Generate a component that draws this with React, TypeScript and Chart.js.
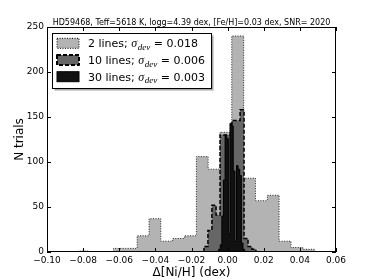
import React, { useEffect, useRef } from "react";
import { Chart, registerables } from "chart.js";

Chart.register(...registerables);

// ---------- text ----------
const TITLE = "HD59468, Teff=5618 K, logg=4.39 dex, [Fe/H]=0.03 dex, SNR= 2020";
const X_LABEL = "Δ[Ni/H] (dex)";
const Y_LABEL = "N trials";

// ---------- ticks ----------
const X_TICKS = [-0.1, -0.08, -0.06, -0.04, -0.02, 0, 0.02, 0.04, 0.06];
const Y_TICKS = [0, 50, 100, 150, 200, 250];

// ---------- series: bin edges and counts ----------
const LINES2_EDGES = [
  -0.0828, -0.0763, -0.0697, -0.0632, -0.0566, -0.0501, -0.0435, -0.037, -0.0304, -0.0239,
  -0.0173, -0.0108, -0.0042, 0.0023, 0.0089, 0.0154, 0.022, 0.0285, 0.0351, 0.0416, 0.0482,
];
const LINES2_COUNTS = [1, 0, 0, 4, 4, 18, 37, 12, 15, 18, 106, 92, 133, 240, 82, 57, 63, 12, 5, 3];

const LINES10_EDGES = [
  -0.0131, -0.0109, -0.0087, -0.0064, -0.0042, -0.002, 0.0002, 0.0024, 0.0046, 0.0069, 0.0091,
  0.0113, 0.0135, 0.0157,
];
const LINES10_COUNTS = [6, 24, 52, 41, 130, 130, 130, 146, 146, 158, 15, 6, 3];

const LINES30_EDGES = [
  -0.005, -0.0041, -0.0032, -0.0023, -0.0014, -0.0005, 0.0004, 0.0013, 0.0022, 0.0031, 0.004,
  0.0049, 0.0058, 0.0067, 0.0076, 0.0085, 0.0094,
];
const LINES30_COUNTS = [3, 8, 40, 80, 130, 126, 20, 143, 140, 90, 12, 96, 92, 85, 10, 3];

const SERIES_NAMES = ["2 lines", "10 lines", "30 lines"];
const SIGMA_DEV = ["0.018", "0.006", "0.003"];

// ---------- styles ----------
const FILLS = ["#b3b3b3", "#666666", "#111111"];
const FONT = "'DejaVu Sans', sans-serif";
const MATH = "'Liberation Serif', 'DejaVu Serif', serif";

function stepPoints(edges: number[], counts: number[]) {
  const pts: { x: number; y: number }[] = [{ x: edges[0], y: 0 }];
  for (let i = 0; i < counts.length; i++) pts.push({ x: edges[i], y: counts[i] });
  pts.push({ x: edges[edges.length - 1], y: 0 });
  return pts;
}

const overlayPlugin = {
  id: "overlay",
  afterDraw(chart: any) {
    const ctx = chart.ctx as CanvasRenderingContext2D;
    const { left, right, top, bottom } = chart.chartArea;
    const xs = chart.scales.x;
    const ys = chart.scales.y;
    ctx.save();
    // frame
    ctx.strokeStyle = "#000";
    ctx.lineWidth = 1;
    ctx.setLineDash([]);
    ctx.strokeRect(left + 0.5, top + 0.5, right - left - 1, bottom - top - 1);
    // inward ticks
    const TL = 4;
    ctx.beginPath();
    X_TICKS.forEach((v) => {
      const px = Math.round(xs.getPixelForValue(v)) + 0.5;
      ctx.moveTo(px, bottom);
      ctx.lineTo(px, bottom - TL);
      ctx.moveTo(px, top);
      ctx.lineTo(px, top + TL);
    });
    Y_TICKS.forEach((v) => {
      const py = Math.round(ys.getPixelForValue(v)) + 0.5;
      ctx.moveTo(left, py);
      ctx.lineTo(left + TL, py);
      ctx.moveTo(right, py);
      ctx.lineTo(right - TL, py);
    });
    ctx.stroke();

    // title
    ctx.fillStyle = "#000";
    ctx.font = `8px ${FONT}`;
    ctx.textAlign = "center";
    ctx.textBaseline = "alphabetic";
    ctx.fillText(TITLE, (left + right) / 2, 24.5);

    // x label
    ctx.font = `12px ${FONT}`;
    ctx.fillText(X_LABEL, (left + right) / 2, 276);

    // y label
    ctx.save();
    ctx.translate(22.5, (top + bottom) / 2);
    ctx.rotate(-Math.PI / 2);
    ctx.fillText(Y_LABEL, 0, 0);
    ctx.restore();

    // legend
    const bx = 52.5, by = 33.5, bw = 159, bh = 55;
    ctx.fillStyle = "rgba(0,0,0,0.35)";
    ctx.fillRect(bx + 2, by + 2, bw, bh);
    ctx.fillStyle = "#fff";
    ctx.fillRect(bx, by, bw, bh);
    ctx.strokeStyle = "#000";
    ctx.lineWidth = 1;
    ctx.strokeRect(bx, by, bw, bh);

    SERIES_NAMES.forEach((name, i) => {
      const cy = 43.3 + i * 16.7;
      // patch
      ctx.save();
      ctx.fillStyle = FILLS[i];
      ctx.fillRect(57, cy - 5, 22, 10);
      ctx.strokeStyle = "#000";
      if (i === 0) {
        ctx.lineWidth = 1;
        ctx.setLineDash([1, 1.5]);
      } else if (i === 1) {
        ctx.lineWidth = 2;
        ctx.lineJoin = "round";
        ctx.setLineDash([4, 2]);
      } else {
        ctx.lineWidth = 1;
        ctx.setLineDash([]);
      }
      ctx.strokeRect(57, cy - 5, 22, 10);
      ctx.restore();

      // text
      ctx.fillStyle = "#000";
      ctx.textAlign = "left";
      ctx.textBaseline = "alphabetic";
      const base = cy + 4;
      let x = 88;
      ctx.font = `11px ${FONT}`;
      const t1 = `${name}; `;
      ctx.fillText(t1, x, base);
      x += ctx.measureText(t1).width;
      ctx.font = `italic 12px ${MATH}`;
      ctx.fillText("σ", x, base);
      x += ctx.measureText("σ").width + 0.5;
      ctx.font = `italic 9px ${MATH}`;
      ctx.fillText("dev", x, base + 2.5);
      x += ctx.measureText("dev").width;
      ctx.font = `11px ${FONT}`;
      ctx.fillText(` = ${SIGMA_DEV[i]}`, x, base);
    });
    ctx.restore();
  },
};

export default function App() {
  const ref = useRef<HTMLCanvasElement | null>(null);

  useEffect(() => {
    if (!ref.current) return;
    const chart = new Chart(ref.current, {
      type: "line",
      data: {
        datasets: [
          {
            label: SERIES_NAMES[0],
            data: stepPoints(LINES2_EDGES, LINES2_COUNTS),
            stepped: true,
            fill: "origin",
            backgroundColor: FILLS[0],
            borderColor: "#222",
            borderWidth: 1,
            borderDash: [1, 1.5],
            pointRadius: 0,
            order: 3,
          },
          {
            label: SERIES_NAMES[1],
            data: stepPoints(LINES10_EDGES, LINES10_COUNTS),
            stepped: true,
            fill: "origin",
            backgroundColor: FILLS[1],
            borderColor: "#000",
            borderWidth: 1.5,
            borderDash: [4, 2],
            pointRadius: 0,
            order: 2,
          },
          {
            label: SERIES_NAMES[2],
            data: stepPoints(LINES30_EDGES, LINES30_COUNTS),
            stepped: true,
            fill: "origin",
            backgroundColor: FILLS[2],
            borderColor: "#000",
            borderWidth: 1,
            pointRadius: 0,
            order: 1,
          },
        ],
      },
      options: {
        responsive: false,
        animation: false,
        events: [],
        layout: { padding: { top: 27, right: 38, bottom: 0, left: 0 } },
        plugins: {
          legend: { display: false },
          tooltip: { enabled: false },
          title: { display: false },
        },
        scales: {
          x: {
            type: "linear",
            min: -0.1,
            max: 0.06,
            grid: { display: false, drawTicks: false },
            border: { display: false },
            afterBuildTicks: (s: any) => {
              s.ticks = X_TICKS.map((v) => ({ value: v }));
            },
            afterFit: (s: any) => {
              s.height = 28;
            },
            ticks: {
              autoSkip: false,
              maxRotation: 0,
              padding: 3,
              color: "#000",
              font: { family: "DejaVu Sans", size: 9 },
              callback: (v: any) => {
                const n = Number(v);
                const s = Math.abs(n).toFixed(2);
                return n < -1e-9 ? "\u2212" + s : s;
              },
            },
          },
          y: {
            type: "linear",
            min: 0,
            max: 250,
            grid: { display: false, drawTicks: false },
            border: { display: false },
            afterBuildTicks: (s: any) => {
              s.ticks = Y_TICKS.map((v) => ({ value: v }));
            },
            afterFit: (s: any) => {
              s.width = 47;
            },
            ticks: {
              padding: 3,
              color: "#000",
              font: { family: "DejaVu Sans", size: 9 },
              callback: (v: any) => String(v),
            },
          },
        },
      },
      plugins: [overlayPlugin],
    });
    return () => chart.destroy();
  }, []);

  return (
    <div style={{ position: "absolute", left: 0, top: 0, width: 374, height: 280, background: "#fff" }}>
      <canvas ref={ref} width={374} height={280} />
    </div>
  );
}
